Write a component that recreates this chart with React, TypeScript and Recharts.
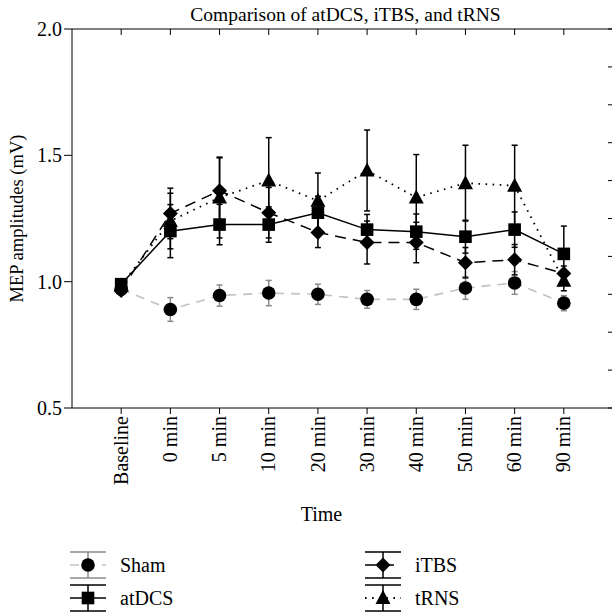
import React from 'react';
import { LineChart, Line, XAxis, YAxis, ErrorBar, Label } from 'recharts';

const FONT = '"Liberation Serif", "DejaVu Serif", serif';
const PLOT_TOP = 29;

const categories = ['Baseline', '0 min', '5 min', '10 min', '20 min', '30 min', '40 min', '50 min', '60 min', '90 min'];

const sham = [0.97, 0.89, 0.945, 0.955, 0.95, 0.93, 0.93, 0.975, 0.995, 0.915];
const shamErr = [0, 0.047, 0.042, 0.05, 0.04, 0.035, 0.04, 0.045, 0.045, 0.03];
const atdcs = [0.99, 1.2, 1.226, 1.226, 1.273, 1.206, 1.198, 1.178, 1.206, 1.11];
const atdcsErr = [0, 0.105, 0.08, 0.07, 0.065, 0.06, 0.07, 0.065, 0.07, 0.11];
const itbs = [0.965, 1.27, 1.36, 1.273, 1.195, 1.155, 1.155, 1.075, 1.087, 1.032];
const itbsErr = [0, 0.1, 0.13, 0.1, 0.06, 0.085, 0.08, 0.06, 0.06, 0.03];
const trns = [0.985, 1.24, 1.333, 1.4, 1.32, 1.44, 1.333, 1.39, 1.38, 1.004];
const trnsErr = [0, 0.11, 0.16, 0.17, 0.11, 0.16, 0.17, 0.15, 0.16, 0.04];

const yTicks = [0.5, 1.0, 1.5, 2.0];
const rightTicks = [0, 1, 2, 3, 4, 5, 6, 7, 8, 9, 10];
const xTicks = categories.map((_, i) => i);

type Shape = 'circle' | 'square' | 'diamond' | 'triangle';

const series: {
  key: string; name: string; shape: Shape; stroke: string; dash?: string; width: number; errStroke: string;
}[] = [
  { key: 'sham', name: 'Sham', shape: 'circle', stroke: '#c2c2c2', dash: '9 7', width: 1.6, errStroke: '#8a8a8a' },
  { key: 'itbs', name: 'iTBS', shape: 'diamond', stroke: '#000', dash: '11 7', width: 1.5, errStroke: '#000' },
  { key: 'trns', name: 'tRNS', shape: 'triangle', stroke: '#000', dash: '1.6 5.5', width: 1.8, errStroke: '#000' },
  { key: 'atdcs', name: 'atDCS', shape: 'square', stroke: '#000', width: 1.5, errStroke: '#000' },
];

const legendOrder = ['sham', 'atdcs', 'itbs', 'trns'];

const data = categories.map((c, i) => ({
  x: i,
  label: c,
  sham: sham[i], shamErr: shamErr[i],
  atdcs: atdcs[i], atdcsErr: atdcsErr[i],
  itbs: itbs[i], itbsErr: itbsErr[i],
  trns: trns[i], trnsErr: trnsErr[i],
}));

function Marker({ cx, cy, shape }: { cx: number; cy: number; shape: Shape }) {
  if (shape === 'circle') return <circle cx={cx} cy={cy} r={6.8} fill="#000" />;
  if (shape === 'square') return <rect x={cx - 6.3} y={cy - 6.3} width={12.6} height={12.6} fill="#000" />;
  if (shape === 'diamond')
    return <polygon points={`${cx},${cy - 7.5} ${cx + 7.5},${cy} ${cx},${cy + 7.5} ${cx - 7.5},${cy}`} fill="#000" />;
  return <polygon points={`${cx},${cy - 8} ${cx + 7.5},${cy + 6} ${cx - 7.5},${cy + 6}`} fill="#000" />;
}

// rotated category label, plus the matching inward tick on the top frame
function XTick({ x, y, payload }: any) {
  return (
    <g>
      <line x1={x} x2={x} y1={PLOT_TOP} y2={PLOT_TOP + 6} stroke="#000" strokeWidth={1} />
      <text
        transform={`translate(${x},${y}) rotate(-90)`}
        dy="0.33em"
        textAnchor="end"
        fontFamily={FONT}
        fontSize={20}
        fill="#000"
      >
        {categories[payload.value]}
      </text>
    </g>
  );
}

const RightTick = ({ x, y }: any) => <line x1={x - 5} x2={x} y1={y} y2={y} stroke="#000" strokeWidth={1} />;

function LegendIcon({ s }: { s: (typeof series)[number] }) {
  return (
    <svg width={36} height={30} style={{ display: 'block' }}>
      <line x1={0} x2={36} y1={2} y2={2} stroke={s.errStroke} strokeWidth={1.5} />
      <line x1={0} x2={36} y1={28} y2={28} stroke={s.errStroke} strokeWidth={1.5} />
      <line x1={18} x2={18} y1={2} y2={28} stroke={s.errStroke} strokeWidth={1.5} />
      <line x1={0} x2={36} y1={15} y2={15} stroke={s.stroke} strokeWidth={s.width} strokeDasharray={s.dash} />
      <Marker cx={18} cy={15} shape={s.shape} />
    </svg>
  );
}

export default function App() {
  const byKey = (k: string) => series.find((s) => s.key === k)!;
  const legendCols = [legendOrder.slice(0, 2), legendOrder.slice(2)];
  const colLeft = [70, 365];

  return (
    <div style={{ position: 'absolute', left: 0, top: 0, width: 612, height: 613, overflow: 'hidden', background: '#fff' }}>
      <LineChart width={624} height={530} data={data} margin={{ top: PLOT_TOP - 1, right: 0, bottom: 0, left: 0 }}>
        <XAxis
          xAxisId="b"
          dataKey="x"
          type="number"
          domain={[-1, 10]}
          ticks={xTicks}
          interval={0}
          height={122}
          tickSize={6}
          stroke="#000"
          tick={<XTick />}
        >
          <Label
            content={({ viewBox }: any) => (
              <text
                x={viewBox.x + viewBox.width / 2 - 21}
                y={viewBox.y + 113}
                textAnchor="middle"
                fontFamily={FONT}
                fontSize={20}
                fill="#000"
              >
                Time
              </text>
            )}
          />
        </XAxis>
        <XAxis
          xAxisId="t"
          orientation="top"
          type="number"
          domain={[-1, 10]}
          allowDataOverflow
          height={1}
          stroke="#000"
          tick={false}
          tickLine={false}
        >
          <Label
            content={({ viewBox }: any) => (
              <text
                x={viewBox.x + viewBox.width / 2 + 3}
                y={PLOT_TOP - 8}
                textAnchor="middle"
                fontFamily={FONT}
                fontSize={19.5}
                fill="#000"
              >
                Comparison of atDCS, iTBS, and tRNS
              </text>
            )}
          />
        </XAxis>
        <YAxis
          yAxisId="l"
          domain={[0.5, 2]}
          ticks={yTicks}
          interval={0}
          width={72}
          tickSize={8}
          stroke="#000"
          tickFormatter={(v: number) => v.toFixed(1)}
          tick={{ fill: '#000', fontSize: 20, fontFamily: FONT }}
        >
          <Label
            content={({ viewBox }: any) => (
              <text
                transform={`translate(${viewBox.x + 23},${viewBox.y + viewBox.height / 2}) rotate(-90)`}
                textAnchor="middle"
                fontFamily={FONT}
                fontSize={18.5}
                fill="#000"
              >
                MEP amplitudes (mV)
              </text>
            )}
          />
        </YAxis>
        <YAxis
          yAxisId="r"
          orientation="right"
          domain={[0, 10]}
          allowDataOverflow
          ticks={rightTicks}
          interval={0}
          width={11}
          tickSize={0}
          tickMargin={0}
          tickLine={false}
          stroke="#000"
          tick={<RightTick />}
        />
        {series.map((s) => (
          <Line
            key={s.key}
            xAxisId="b"
            yAxisId="l"
            dataKey={s.key}
            stroke={s.stroke}
            strokeWidth={s.width}
            strokeDasharray={s.dash}
            isAnimationActive={false}
            activeDot={false}
            dot={(p: any) => <Marker key={`${s.key}-${p.index}`} cx={p.cx} cy={p.cy} shape={s.shape} />}
          >
            <ErrorBar
              dataKey={`${s.key}Err`}
              direction="y"
              width={3}
              stroke={s.errStroke}
              strokeWidth={1.5}
              isAnimationActive={false}
            />
          </Line>
        ))}
      </LineChart>

      {legendCols.map((col, ci) =>
        col.map((k, ri) => {
          const s = byKey(k);
          return (
            <div
              key={k}
              style={{
                position: 'absolute',
                left: colLeft[ci],
                top: 550 + ri * 33,
                display: 'flex',
                alignItems: 'center',
                fontFamily: FONT,
                fontSize: 20,
                color: '#000',
              }}
            >
              <LegendIcon s={s} />
              <span style={{ marginLeft: 14 }}>{s.name}</span>
            </div>
          );
        })
      )}
    </div>
  );
}
